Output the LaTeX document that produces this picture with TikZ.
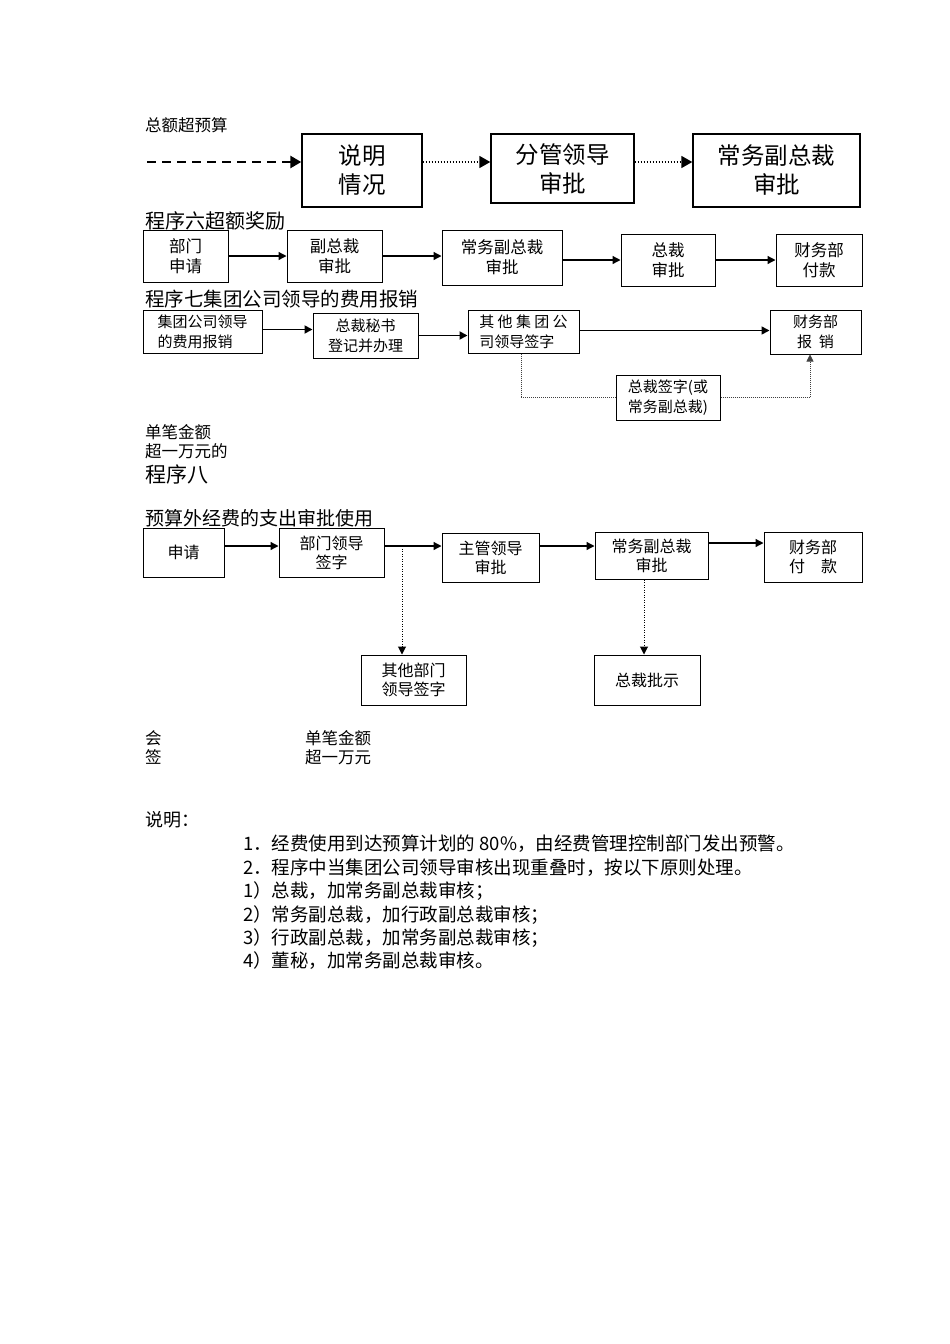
\documentclass[tikz,border=0pt]{standalone}
\usepackage{fontspec}
\setmainfont{Noto Sans CJK SC}
\usetikzlibrary{arrows.meta}
\newcommand\fsz[2]{\fontsize{#1}{#2}\selectfont}

\begin{document}
\begin{tikzpicture}[x=1pt, y=-1pt,
	box/.style={draw, line width=1pt, inner sep=0pt, align=center},
	bigbox/.style={box, line width=1.4pt, font=\fsz{23.5}{29}},
	sixbox/.style={box, font=\fsz{16.5}{20}},
	sevenbox/.style={box, font=\fsz{15}{20}},
	eightbox/.style={box, font=\fsz{16}{19}},
	arr/.style={line width=1.3pt, -{Triangle[length=8pt,width=8pt]}},
	bigarr/.style={line width=1.6pt, -{Triangle[length=11pt,width=12pt]}},
	dotarr/.style={line width=1pt, dash pattern=on 1.2pt off 1.3pt, -{Triangle[length=8pt,width=8pt]}},
	thindot/.style={line width=0.7pt, black!75, dash pattern=on 1pt off 1pt},
	label/.style={anchor=west, inner sep=0pt, align=left}]
			%%%%% START %%%%%
			
			\fill[white] (0, 0) rectangle (950, 1344);
			\useasboundingbox (0, 0) rectangle (950, 1344);
			
			% total over budget
			\node[label, font=\fsz{16.5}{19}] (tot) at (145, 125) {总额超预算};
			\coordinate (start) at (147, 162);
			\node[bigbox, minimum width=120, minimum height=73] (sm) at (362, 170.5) {说明\\情况};
			\node[bigbox, minimum width=143, minimum height=69] (fg) at (562.5, 168.5) {分管领导\\审批};
			\node[bigbox, minimum width=167, minimum height=73] (cw) at (776.5, 170.5) {常务副总裁\\审批};
			\draw[line width=2.6pt, dash pattern=on 9pt off 6pt, -{Triangle[length=11pt,width=12pt]}] (start) -- (start -| sm.west);
			\draw[bigarr, dash pattern=on 1.5pt off 1.5pt] (sm.east |- start) -- (start -| fg.west);
			\draw[bigarr, dash pattern=on 1.5pt off 1.5pt] (fg.east |- start) -- (start -| cw.west);
			
			% program six
			\node[label, font=\fsz{20}{24}] (p6) at (145, 221) {程序六超额奖励};
			\node[sixbox, minimum width=85, minimum height=52] (bm) at (185.5, 256) {部门\\申请};
			\node[sixbox, minimum width=95, minimum height=52] (fz) at (334.5, 256) {副总裁\\审批};
			\node[sixbox, minimum width=120, minimum height=55] (cf) at (502, 257.5) {常务副总裁\\审批};
			\node[sixbox, minimum width=94, minimum height=52] (zc) at (668, 260) {总裁\\审批};
			\node[sixbox, minimum width=86, minimum height=52] (cw6) at (819, 260) {财务部\\付款};
			\draw[arr] (bm.east) -- (bm.east -| fz.west);
			\draw[arr] (fz.east) -- (fz.east -| cf.west);
			\draw[arr] (cf.east |- zc.west) -- (zc.west);
			\draw[arr] (zc.east) -- (zc.east -| cw6.west);
			
			% program seven
			\node[label, font=\fsz{19.5}{24}] (p7) at (145, 299) {程序七集团公司领导的费用报销};
			\node[sevenbox, align=left, minimum width=119, minimum height=43] (jt) at (202.5, 331.5) {集团公司领导\\的费用报销};
			\node[sevenbox, minimum width=105, minimum height=45] (zm) at (365.5, 335.5) {总裁秘书\\登记并办理};
			\node[sevenbox, align=left, minimum width=111, minimum height=43] (qt) at (523.5, 331.5) {其 他 集 团 公\\司领导签字};
			\node[sevenbox, minimum width=91, minimum height=44] (cb) at (815.5, 332) {财务部\\报\ \ 销};
			\node[sevenbox, minimum width=104, minimum height=45] (zq) at (668, 397.5) {总裁签字(或\\常务副总裁)};
			\coordinate (cbin) at ([xshift=-5.5pt]cb.south);
			\coordinate (qtout) at ([xshift=-2.5pt]qt.south);
			\draw[arr, line width=1.8pt] ([yshift=2pt]jt.east) -- ([yshift=2pt]jt.east -| zm.west);
			\draw[arr, line width=1.8pt] (zm.east) -- (zm.east -| qt.west);
			\draw[arr, line width=1.6pt] ([yshift=1pt]qt.east) -- ([yshift=1pt]qt.east -| cb.west);
			\draw[thindot] (qtout) -- (qtout |- zq.west) -- (zq.west);
			\draw[thindot, -{Triangle[length=7pt,width=7pt]}] (zq.east) -- (zq.east -| cbin) -- (cbin);
			
			% program eight
			\node[label, font=\fsz{16.5}{19}] (dbj) at (145, 441.5) {单笔金额\\超一万元的};
			\node[label, font=\fsz{21}{24}] (p8) at (145, 474) {程序八};
			\node[label, font=\fsz{19}{22}] (ysw) at (145, 518) {预算外经费的支出审批使用};
			\coordinate (r8) at (0, 546);
			\coordinate (r8b) at (0, 543);
			\coordinate (d8) at (402, 546);
			\node[eightbox, minimum width=81, minimum height=49] (sq) at (183.5, 552.5) {申请};
			\node[eightbox, minimum width=105, minimum height=49] (bl) at (331.5, 552.5) {部门领导\\签字};
			\node[eightbox, minimum width=97, minimum height=49] (zg) at (490.5, 557.5) {主管领导\\审批};
			\node[eightbox, minimum width=113, minimum height=47] (cf8) at (651.5, 555.5) {常务副总裁\\审批};
			\node[eightbox, minimum width=98, minimum height=50] (cw8) at (813, 557) {财务部\\付\quad 款};
			\node[eightbox, minimum width=105, minimum height=50] (qb) at (413.5, 680) {其他部门\\领导签字};
			\node[eightbox, minimum width=106, minimum height=50] (zp) at (647, 680) {总裁批示};
			\coordinate (zpin) at ([xshift=-3pt]zp.north);
			\draw[arr] (sq.east |- r8) -- (bl.west |- r8);
			\draw[arr] (bl.east |- r8) -- (zg.west |- r8);
			\draw[arr] (zg.east |- r8) -- (cf8.west |- r8);
			\draw[arr] (cf8.east |- r8b) -- (cw8.west |- r8b);
			\draw[dotarr] (d8) -- (d8 |- qb.north);
			\draw[dotarr] (zpin |- cf8.south) -- (zpin);
			
			% notes
			\node[label, font=\fsz{16.5}{19}] (hq) at (145, 747.5) {会\\签};
			\node[label, font=\fsz{16.5}{19}] (dby) at (305, 747.5) {单笔金额\\超一万元};
			\node[label, font=\fsz{18}{22}] (sm2) at (145, 820) {说明：};
			\node[label, font=\fsz{18.5}{23.4}] (notes) at (243, 902.5) {1．经费使用到达预算计划的 80\%，由经费管理控制部门发出预警。\\
				2．程序中当集团公司领导审核出现重叠时，按以下原则处理。\\
				1）总裁，加常务副总裁审核；\\
				2）常务副总裁，加行政副总裁审核；\\
				3）行政副总裁，加常务副总裁审核；\\
				4）董秘，加常务副总裁审核。};
			
			%%%%% END %%%%%
		\end{tikzpicture}
\end{document}
